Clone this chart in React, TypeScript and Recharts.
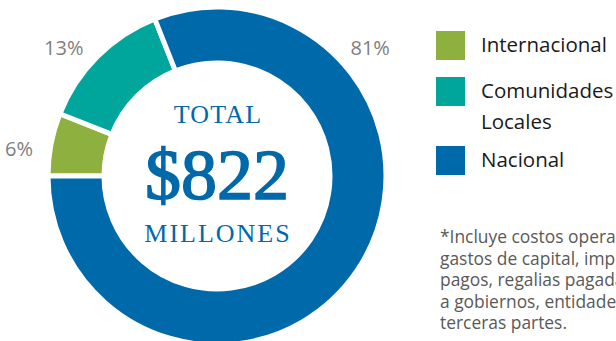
import { PieChart, Pie, Cell, Legend } from 'recharts';

const categories = ['Internacional', 'Comunidades Locales', 'Nacional'];
const shares = [6, 13, 81];
const colors = ['#8DB03E', '#00A69C', '#0069AA'];
const totalLabel = '$822';
const footnote = [
    '*Incluye costos operativos,',
    'gastos de capital, impuestos,',
    'pagos, regalias pagadas',
    'a gobiernos, entidades y',
    'terceras partes.',
];

const data = categories.map((name, i) => ({ name, value: shares[i] }));

// label angle for each slice (excel-style placement, not always mid-angle)
const labelAngles = [172, 140, 40];

function renderLabel({ cx, cy, outerRadius, index, value }: any) {
    const rad = (labelAngles[index] * Math.PI) / 180;
    const r = outerRadius + 31;
    const x = cx + r * Math.cos(rad);
    const y = cy - r * Math.sin(rad);
    return (
        <text
            x={x}
            y={y}
            textAnchor="middle"
            dominantBaseline="central"
            fill="#808080"
            fontSize={20}
            fontFamily="'Open Sans', sans-serif"
        >
            {value}%
        </text>
    );
}

// legend in the original order (recharts would sort the payload)
function LegendContent() {
    const gaps = [17, 9, 0];
    return (
        <div style={{ fontFamily: "'Open Sans', sans-serif", fontSize: 20.5, color: '#1a1a1a' }}>
            {categories.map((name, i) => (
                <div key={name} style={{ display: 'flex', alignItems: 'flex-start', marginBottom: gaps[i] }}>
                    <div style={{ width: 29, height: 29, background: colors[i], flexShrink: 0 }} />
                    <div style={{ marginLeft: 16, lineHeight: '31px', width: 134, marginTop: -2 }}>{name}</div>
                </div>
            ))}
        </div>
    );
}

export default function App() {
    return (
        <div style={{ position: 'fixed', left: 0, top: 0, width: 616, height: 341, overflow: 'hidden', background: '#fff' }}>
            <PieChart width={616} height={341} margin={{ top: 0, right: 0, bottom: 0, left: 0 }}>
                <Pie
                    data={data}
                    dataKey="value"
                    nameKey="name"
                    cx={217}
                    cy={176}
                    innerRadius={113}
                    outerRadius={169}
                    startAngle={180}
                    endAngle={-180}
                    stroke="#fff"
                    strokeWidth={5}
                    label={renderLabel}
                    labelLine={false}
                    isAnimationActive={false}
                >
                    {data.map((d, i) => (
                        <Cell key={d.name} fill={colors[i]} />
                    ))}
                </Pie>
                <text x={218} y={123} textAnchor="middle" fill="#0069AA" fontSize={26} letterSpacing={1.2} fontFamily="'Liberation Serif', serif">
                    TOTAL
                </text>
                {/* thin stroke gives a semibold look between regular and bold */}
                <text x={217} y={199} textAnchor="middle" fill="#0069AA" stroke="#0069AA" strokeWidth={1.6} fontSize={72} fontFamily="'Liberation Serif', serif">
                    {totalLabel}
                </text>
                <text x={218} y={242} textAnchor="middle" fill="#0069AA" fontSize={26} letterSpacing={2} fontFamily="'Liberation Serif', serif">
                    MILLONES
                </text>
                {footnote.map((line, i) => (
                    <text key={i} x={440} y={243 + i * 21.5} fill="#595959" fontSize={17.4} fontFamily="'Open Sans', sans-serif">
                        {line}
                    </text>
                ))}
                <Legend
                    layout="horizontal"
                    align="center"
                    verticalAlign="middle"
                    content={<LegendContent />}
                    wrapperStyle={{ left: 436, top: 31, width: 180 }}
                />
            </PieChart>
        </div>
    );
}
